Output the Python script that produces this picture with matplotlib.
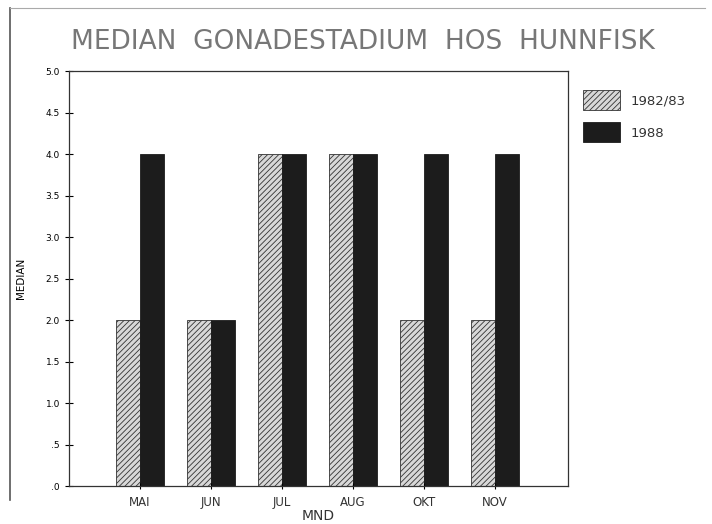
import matplotlib.pyplot as plt
import matplotlib.patches as mpatches
import matplotlib.lines as mlines
import numpy as np

months = ['MAI', 'JUN', 'JUL', 'AUG', 'OKT', 'NOV']
median_8283 = [2.0, 2.0, 4.0, 4.0, 2.0, 2.0]
median_1988 = [4.0, 2.0, 4.0, 4.0, 4.0, 4.0]
yticks = [0, 0.5, 1.0, 1.5, 2.0, 2.5, 3.0, 3.5, 4.0, 4.5, 5.0]
ytick_labels = ['.0', '.5', '1.0', '1.5', '2.0', '2.5', '3.0', '3.5', '4.0', '4.5', '5.0']

plt.rcParams['hatch.linewidth'] = 0.6
plt.rcParams['hatch.color'] = '#444444'

fig = plt.figure(figsize=(7.12, 5.24), dpi=100)
ax = fig.add_axes([0.097, 0.0725, 0.701, 0.792])

x = np.arange(len(months))
w = 0.34
ax.bar(x - w/2, median_8283, w, facecolor='#d8d8d8', edgecolor='#333333',
       hatch='//////', linewidth=0.6, label='1982/83')
ax.bar(x + w/2, median_1988, w, color='#1c1c1c', edgecolor='#1c1c1c',
       linewidth=0.6, label='1988')

ax.set_xlim(-1, 6.03)
ax.set_ylim(0, 5)
ax.set_yticks(yticks)
ax.set_yticklabels(ytick_labels, fontsize=6.5)
ax.set_xticks(x)
ax.set_xticklabels(months, fontsize=8.5, color='#333333')
ax.tick_params(axis='y', direction='inout', length=6, width=0.8)
ax.tick_params(axis='x', direction='inout', length=4, width=0.8, pad=5)
for s in ax.spines.values():
    s.set_linewidth(0.9)
    s.set_color('#333333')

ax.set_ylabel('MEDIAN', fontsize=7.5, labelpad=14)
ax.set_xlabel('MND', fontsize=10, color='#333333', labelpad=0)

fig.text(0.51, 0.92, 'MEDIAN  GONADESTADIUM  HOS  HUNNFISK', ha='center',
         va='center', fontsize=19, color='#777777')

# legend placed as in the scan
fig.patches.append(mpatches.Rectangle((0.819, 0.79), 0.052, 0.038,
                   transform=fig.transFigure, facecolor='#d8d8d8',
                   edgecolor='#333333', hatch='//////', linewidth=0.6))
fig.patches.append(mpatches.Rectangle((0.819, 0.729), 0.052, 0.038,
                   transform=fig.transFigure, facecolor='#1c1c1c',
                   edgecolor='#1c1c1c', linewidth=0.6))
fig.text(0.885, 0.807, '1982/83', fontsize=9.5, va='center', color='#333333')
fig.text(0.885, 0.745, '1988', fontsize=9.5, va='center', color='#333333')

# faint edges of the scanned page
fig.add_artist(mlines.Line2D([0.014, 0.014], [0.045, 0.985],
               transform=fig.transFigure, color='#555555', linewidth=1.2))
fig.add_artist(mlines.Line2D([0.014, 0.99], [0.985, 0.985],
               transform=fig.transFigure, color='#aaaaaa', linewidth=0.8))

fig.savefig('out.png', dpi=100, facecolor='white')
